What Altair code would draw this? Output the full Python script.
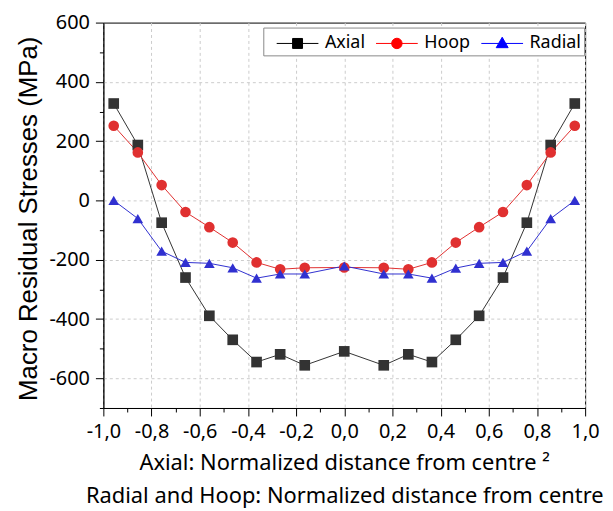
import altair as alt
import pandas as pd

x_pos = [-0.957, -0.857, -0.758, -0.659, -0.560, -0.463, -0.364, -0.266, -0.164, 0.0,
         0.164, 0.266, 0.364, 0.463, 0.560, 0.659, 0.758, 0.857, 0.957]
axial = [327, 187, -75, -260, -389, -470, -545, -519, -556, -509,
         -556, -519, -545, -470, -389, -260, -75, 187, 327]
hoop = [252, 162, 52, -39, -90, -142, -209, -232, -227, -226,
        -227, -232, -209, -142, -90, -39, 52, 162, 252]
radial = [0, -61, -171, -209, -212, -227, -262, -248, -248, -221,
          -248, -248, -262, -228, -212, -209, -171, -61, 0]

series = ["Axial", "Hoop", "Radial"]
colors = ["#000000", "#FF0000", "#0000FF"]
line_colors = ["#333333", "#E03030", "#3030D0"]
shapes = ["square", "circle", "triangle-up"]
legend_shapes = [
    "M-0.2,0H3.16M1.08,-0.4H1.88V0.4H1.08Z",
    "M-0.2,0H3.16M1.9,0A0.42,0.42 0 1,1 1.06,0A0.42,0.42 0 1,1 1.9,0Z",
    "M-0.2,0H3.16M1.48,-0.5L1.96,0.34H1.0Z",
]

x_ticks = [-1.0, -0.9, -0.8, -0.7, -0.6, -0.5, -0.4, -0.3, -0.2, -0.1, 0.0,
           0.1, 0.2, 0.3, 0.4, 0.5, 0.6, 0.7, 0.8, 0.9, 1.0]
y_ticks = [-700, -600, -500, -400, -300, -200, -100, 0, 100, 200, 300, 400, 500, 600]

rows = []
for name, vals in zip(series, [axial, hoop, radial]):
    for i, (xv, yv) in enumerate(zip(x_pos, vals)):
        rows.append({"series": name, "x": xv, "y": yv, "i": i})
df = pd.DataFrame(rows)

x_major = "abs(round(datum.value*10)) % 2 == 0"
y_major = "datum.value % 200 == 0"

x_enc = alt.X(
    "x:Q",
    scale=alt.Scale(domain=[-1, 1], nice=False, zero=False),
    axis=alt.Axis(
        values=x_ticks,
        title=["Axial: Normalized distance from centre ²",
               "Radial and Hoop: Normalized distance from centre"],
        labelExpr=x_major + " ? replace(replace(format(datum.value, '.1f'), '\u2212', '-'), '.', ',') : ''",
        labelOverlap=False,
        labelFlush=False,
        tickSize={"condition": {"test": x_major, "value": 8}, "value": 4},
        gridOpacity={"condition": {"test": x_major, "value": 1}, "value": 0},
        labelPadding=6,
        titleFontSize=22,
        titleY=62,
        titleBaseline="alphabetic",
        titleLineHeight=33,
    ),
)
y_enc = alt.Y(
    "y:Q",
    scale=alt.Scale(domain=[-700, 600], nice=False, zero=False),
    axis=alt.Axis(
        values=y_ticks,
        title="Macro Residual Stresses (MPa)",
        labelExpr=y_major + " ? '' + datum.value : ''",
        labelOverlap=False,
        labelFlush=False,
        tickSize={"condition": {"test": y_major, "value": 8}, "value": 4},
        gridOpacity={"condition": {"test": y_major + " && datum.value < 600", "value": 1}, "value": 0},
        labelPadding=6,
        titleFont="Liberation Sans",
        titleFontSize=26,
        titleX=-67,
        titleY=197,
        titleAngle=270,
        titleBaseline="alphabetic",
        titleAlign="center",
    ),
)

lines = alt.Chart(df).mark_line(strokeWidth=1).encode(
    x=x_enc, y=y_enc,
    color=alt.Color("series:N", scale=alt.Scale(domain=series, range=line_colors), legend=None),
    order="i:Q",
)

points = alt.Chart(df).mark_point(filled=True, opacity=1).encode(
    x=x_enc, y=y_enc,
    color=alt.Color("series:N", scale=alt.Scale(domain=series, range=colors), legend=None),
    shape=alt.Shape("series:N", scale=alt.Scale(domain=series, range=shapes), legend=None),
    size=alt.value(115),
)

leg = alt.Legend(
    title=None, orient="none", direction="horizontal", legendX=161, legendY=5,
    symbolSize=625, symbolStrokeWidth=1, labelFont="Noto Sans", labelFontSize=18,
    labelOffset=33, columnPadding=0, padding=3, strokeColor="#888888", fillColor="white",
    labelColor="black",
)
legend_layer = alt.Chart(df).transform_filter("false").mark_point(filled=True, opacity=1).encode(
    x=x_enc, y=y_enc,
    fill=alt.Fill("series:N", scale=alt.Scale(domain=series, range=colors), legend=leg),
    stroke=alt.Stroke("series:N", scale=alt.Scale(domain=series, range=colors), legend=leg),
    shape=alt.Shape("series:N", scale=alt.Scale(domain=series, range=legend_shapes), legend=leg),
)

chart = alt.layer(lines, points, legend_layer).resolve_scale(
    shape="independent", fill="independent", stroke="independent"
).properties(
    width=485, height=388,
    autosize=alt.AutoSizeParams(type="none"),
    padding={"left": 96, "top": 13, "right": 20, "bottom": 101},
).configure_view(
    stroke="black", strokeWidth=1
).configure_axis(
    domainColor="black", tickColor="black", labelColor="black", titleColor="black",
    labelFont="Noto Sans", labelFontSize=20, titleFont="Noto Sans", titleFontSize=20,
    titleFontWeight="normal", gridColor="#cccccc", gridDash=[3, 3], gridWidth=1,
)

chart.save("out.html", embed_options={"renderer": "svg", "actions": False})
